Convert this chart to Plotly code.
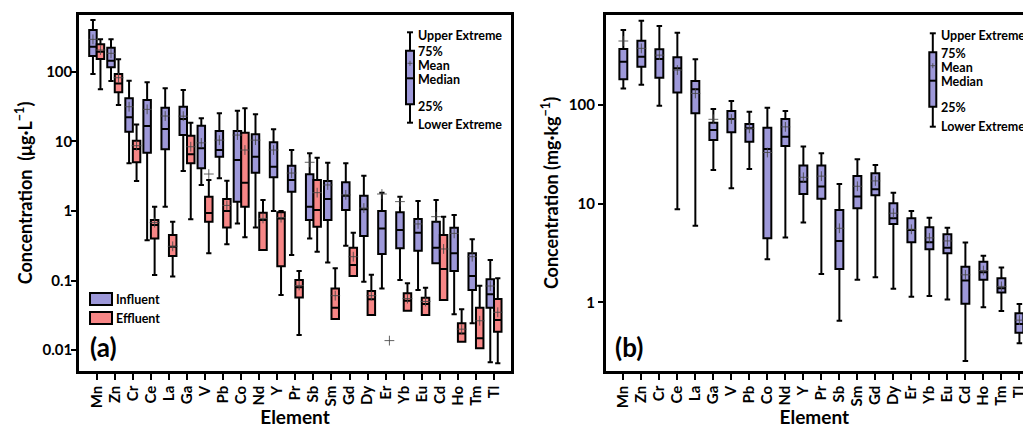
import plotly.graph_objects as go

elements = ["Mn", "Zn", "Cr", "Ce", "La", "Ga", "V", "Pb", "Co", "Nd", "Y", "Pr",
            "Sb", "Sm", "Gd", "Dy", "Er", "Yb", "Eu", "Cd", "Ho", "Tm", "Tl"]

# ---- (a) water, influent (ug/L) ----
inf_low = [92.7, 73.5, 4.83, 0.38, 1.15, 3.74, 2.36, 2.94, 0.66, 0.58, 1.0, 0.232,
           0.40, 0.182, 0.316, 0.096, 0.077, 0.102, 0.073, 0.177, 0.0327, 0.0243, 0.00668]
inf_q1 = [168, 116, 13.7, 6.86, 7.67, 12.3, 4.09, 6.0, 1.36, 3.54, 3.04, 1.89,
          0.74, 0.74, 1.03, 0.435, 0.24, 0.29, 0.268, 0.177, 0.137, 0.073, 0.0407]
inf_med = [229, 144, 22.1, 16.6, 15.0, 20.9, 7.92, 7.5, 5.38, 6.0, 4.32, 2.78,
           1.15, 1.48, 1.65, 1.06, 0.56, 0.532, 0.486, 0.296, 0.246, 0.116, 0.0634]
inf_q3 = [397, 221, 41.5, 39.2, 30.4, 31.4, 16.7, 14.1, 14.1, 12.6, 9.68, 4.46,
          3.36, 2.69, 2.58, 1.65, 1.0, 0.955, 0.765, 0.70, 0.574, 0.246, 0.104]
inf_high = [553, 292, 74.3, 70.5, 57.7, 54.6, 21.4, 25.3, 27.5, 24.4, 14.9, 7.5,
            6.73, 4.93, 4.83, 3.2, 1.83, 1.6, 1.39, 1.44, 0.873, 0.391, 0.197]
inf_mean = [292, 184, 31.4, 28.8, 23.1, 23.0, 9.5, 10.4, 12.3, 10.4, 7.5, 3.5,
            5.0, 2.36, 1.7, 1.1, 1.75, 1.36, 0.65, 0.826, 0.476, 0.22, 0.0834]

# ---- (a) water, effluent (ug/L); Er effluent shows only a mean marker ----
eff_low = [55.9, 33.3, 2.69, 0.12, 0.114, 0.76, 0.246, 0.331, 0.42, 0.274, 0.062, 0.0165,
           0.26, 0.028, 0.116, 0.032, None, 0.0368, 0.032, 0.0525, 0.0132, 0.0106, 0.00646]
eff_q1 = [152, 50.6, 4.99, 0.40, 0.225, 4.83, 0.70, 0.58, 1.15, 0.274, 0.161, 0.057,
          0.59, 0.028, 0.116, 0.032, None, 0.0368, 0.032, 0.0525, 0.0132, 0.0106, 0.0184]
eff_med = [194, 68, 7.75, 0.63, 0.306, 6.5, 0.93, 1.0, 2.54, 0.74, 0.78, 0.080,
           1.03, 0.0407, 0.167, 0.054, None, 0.0513, 0.0459, 0.146, 0.0174, 0.0148, 0.027]
eff_q3 = [248, 92.7, 10.2, 0.74, 0.45, 12.0, 1.60, 1.48, 13.3, 0.94, 0.955, 0.102,
          2.78, 0.077, 0.296, 0.0706, None, 0.0655, 0.0566, 0.45, 0.0243, 0.0407, 0.0542]
eff_high = [292, 151, 17.5, 1.15, 0.70, 18.5, 2.78, 2.72, 29.8, 1.44, 1.0, 0.137,
            5.8, 0.150, 0.486, 0.121, None, 0.0912, 0.0789, 0.826, 0.0386, 0.0841, 0.108]
eff_mean = [205, 82, 8.65, 0.68, 0.31, 8.36, 3.39, 1.2, 7.5, 0.78, 0.80, 0.085,
            1.83, 0.0606, 0.22, 0.0606, 0.0137, 0.055, 0.05, 0.284, 0.02, 0.0264, 0.035]

# ---- (b) sediment (mg/kg) ----
sed_low = [147, 160, 98.4, 8.77, 5.98, 21.9, 14.3, 22.5, 2.73, 4.53, 6.43, 1.94,
           0.649, 1.69, 1.8, 1.37, 1.14, 1.16, 1.07, 0.255, 0.89, 0.818, 0.385]
sed_q1 = [182, 244, 189, 134, 82.4, 44.2, 52.8, 42.5, 4.46, 38.5, 12.5, 11.2,
          2.18, 8.97, 12.2, 6.22, 4.07, 3.45, 3.14, 0.97, 1.69, 1.26, 0.493]
sed_med = [275, 308, 293, 236, 144, 55.8, 72.1, 58.1, 35.8, 47.7, 16.7, 14.9,
           4.19, 11.8, 14.0, 7.1, 5.41, 4.07, 3.58, 1.66, 2.02, 1.39, 0.604]
sed_q3 = [369, 448, 367, 304, 175, 66.2, 86.9, 64.1, 58.9, 72.1, 24.3, 24.3,
          8.63, 19.1, 20.3, 10.1, 7.1, 5.77, 4.9, 2.3, 2.58, 1.75, 0.776]
sed_high = [575, 715, 631, 540, 290, 91, 110, 85.5, 93.9, 86.9, 37.9, 32.4,
            15.8, 28.2, 24.7, 12.9, 8.43, 7.2, 5.71, 4.03, 2.97, 2.25, 0.964]
sed_mean = [445, 375, 320, 226, 131, 71.6, 72, 58, 33, 60, 18.5, 19,
            5.63, 15, 17, 8, 5.5, 4.5, 4.19, 1.9, 2.1, 1.45, 0.66]

y_ticks_a = [0.01, 0.1, 1, 10, 100]
y_ticks_b = [1, 10, 100]

BLUE = "#9d98d9"
RED = "#f78686"
FONT = "Lato"
MEANC = "rgba(70,70,70,0.85)"


def keep(cols):
    idx = [i for i, v in enumerate(cols[1]) if v is not None]
    return [[c[i] for i in idx] for c in cols]


fig = go.Figure()

fig.add_trace(go.Box(
    x=elements, lowerfence=inf_low, q1=inf_q1, median=inf_med, q3=inf_q3,
    upperfence=inf_high, name="Influent", offsetgroup="inf", alignmentgroup="a",
    fillcolor=BLUE, line=dict(color="black", width=2), whiskerwidth=0.7,
    boxpoints=False, showlegend=False, xaxis="x", yaxis="y"))

ex, el, eq1, emed, eq3, eh = keep([elements, eff_low, eff_q1, eff_med, eff_q3, eff_high])
fig.add_trace(go.Box(
    x=ex, lowerfence=el, q1=eq1, median=emed, q3=eq3, upperfence=eh,
    name="Effluent", offsetgroup="eff", alignmentgroup="a",
    fillcolor=RED, line=dict(color="black", width=2), whiskerwidth=0.7,
    boxpoints=False, showlegend=False, xaxis="x", yaxis="y"))

fig.add_trace(go.Scatter(
    x=elements, y=inf_mean, mode="markers", name="Influent mean",
    offsetgroup="inf", alignmentgroup="a",
    marker=dict(symbol="cross-thin", size=7, line=dict(color=MEANC, width=1)),
    showlegend=False, xaxis="x", yaxis="y"))
fig.add_trace(go.Scatter(
    x=elements, y=eff_mean, mode="markers", name="Effluent mean",
    offsetgroup="eff", alignmentgroup="a",
    marker=dict(symbol="cross-thin", size=7, line=dict(color=MEANC, width=1)),
    showlegend=False, xaxis="x", yaxis="y"))

fig.add_trace(go.Box(
    x=elements, lowerfence=sed_low, q1=sed_q1, median=sed_med, q3=sed_q3,
    upperfence=sed_high, name="Sediment", width=0.44,
    fillcolor=BLUE, line=dict(color="black", width=2), whiskerwidth=0.7,
    boxpoints=False, showlegend=False, xaxis="x2", yaxis="y2"))
fig.add_trace(go.Scatter(
    x=elements, y=sed_mean, mode="markers", name="Sediment mean",
    marker=dict(symbol="cross-thin", size=7, line=dict(color=MEANC, width=1)),
    showlegend=False, xaxis="x2", yaxis="y2"))

W, H, T, B = 1023, 428, 15, 371


def px(x):
    return x / W


def py(y):
    return (B - y) / (B - T)


shapes = []
annotations = []


def line(x0, y0, x1, y1, w=2, c="black"):
    shapes.append(dict(type="line", xref="paper", yref="paper", x0=px(x0), y0=py(y0),
                       x1=px(x1), y1=py(y1), line=dict(color=c, width=w)))


def rect(x0, y0, x1, y1, fill, w=2):
    shapes.append(dict(type="rect", xref="paper", yref="paper", x0=px(x0), y0=py(y0),
                       x1=px(x1), y1=py(y1), fillcolor=fill, line=dict(color="black", width=w)))


def text(x, y, s, size=11, anchor="left"):
    annotations.append(dict(xref="paper", yref="paper", x=px(x), y=py(y), text=s,
                            showarrow=False, xanchor=anchor, yanchor="middle",
                            font=dict(family=FONT, size=size, color="black", weight="bold")))


def key(xl, xr, wt, bt, mn, md, bb, wb, tx, ty):
    xc = (xl + xr) / 2
    line(xc, wt, xc, wb)
    line(xc - 3, wt, xc + 3, wt)
    line(xc - 3, wb, xc + 3, wb)
    rect(xl, bt, xr, bb, BLUE)
    line(xl, md, xr, md)
    line(xc - 2.5, mn, xc + 2.5, mn, w=1, c=MEANC)
    line(xc, mn - 2.5, xc, mn + 2.5, w=1, c=MEANC)
    labels = ["Upper Extreme", "75%", "Mean", "Median", "25%", "Lower Extreme"]
    for s, yy in zip(labels, ty):
        text(tx, yy, s, size=12.5)


key(406, 414, 32.3, 50.7, 63.3, 78.3, 104.3, 122.7, 416, [35, 52, 65, 80, 106, 124])
key(929.3, 936.3, 33.3, 52.3, 65.7, 80.7, 106.7, 126.7, 939, [36, 53.3, 67.3, 81.7, 107.3, 126.7])

# series legend for panel (a)
rect(90, 293, 112, 305, BLUE)
rect(90, 312, 112, 324, RED)
text(114, 299, "Influent", size=12.5)
text(114, 318, "Effluent", size=12.5)

text(88, 347, "(a)", size=26)
text(613, 347, "(b)", size=26)

axis_common = dict(showline=True, linecolor="black", linewidth=2.5, showgrid=False,
                   zeroline=False, ticks="outside", tickcolor="black", tickwidth=2)
tickfont = dict(family=FONT, size=15, color="black", weight="bold")
titlefont = dict(family=FONT, size=19, color="black", weight="bold")

fig.update_layout(
    width=W, height=H,
    margin=dict(l=0, r=0, t=T, b=H - B, autoexpand=False),
    paper_bgcolor="white", plot_bgcolor="white",
    boxmode="group", boxgap=0.17, boxgroupgap=0,
    scattermode="group", scattergap=0.17,
    showlegend=False,
    shapes=shapes, annotations=annotations,
    xaxis=dict(domain=[79 / W, 511 / W], type="category", categoryorder="array",
               categoryarray=elements, range=[-0.98, 22.94], mirror=True,
               ticklen=6, tickangle=-90, tickfont=tickfont,
               title=dict(text="Element", font=titlefont, standoff=8), **axis_common),
    yaxis=dict(domain=[0, 1], type="log", range=[-2.30, 2.815], mirror=True,
               ticklen=5, tickvals=y_ticks_a, ticktext=[str(v) for v in y_ticks_a],
               tickfont=tickfont, ticklabelstandoff=-4,
               title=dict(text="Concentration  (μg·L<sup>−1</sup>)",
                          font=dict(family=FONT, size=18, color="black", weight="bold"),
                          standoff=6),
               **axis_common),
    xaxis2=dict(domain=[605.7 / W, 1.0], type="category", categoryorder="array",
                categoryarray=elements, range=[-0.98, 22.2], mirror=True,
                anchor="y2", ticklen=6, tickangle=-90, tickfont=tickfont,
                title=dict(text="Element", font=titlefont, standoff=8), **axis_common),
    yaxis2=dict(domain=[0, 1], type="log", range=[-0.696, 2.912], mirror=False,
                anchor="x2", ticklen=5, tickvals=y_ticks_b,
                ticktext=[str(v) for v in y_ticks_b], tickfont=tickfont,
                title=dict(text="Concentration (mg·kg<sup>−1</sup>)",
                           font=dict(family=FONT, size=18, color="black", weight="bold"),
                           standoff=6),
                **axis_common),
)

fig.write_html("out.html", config={"displayModeBar": False},
               post_script="document.body.style.margin='0px';"
                           "document.body.style.overflow='hidden';")
